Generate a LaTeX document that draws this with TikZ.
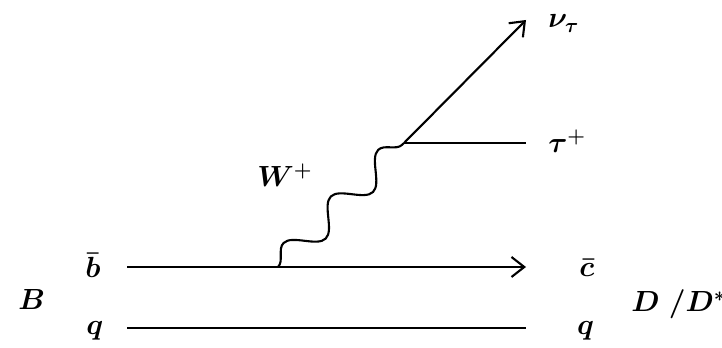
\documentclass[tikz,border=0pt]{standalone}
\usepackage{amsmath}
\usetikzlibrary{arrows.meta,positioning,decorations.pathmorphing}

\begin{document}
\begin{tikzpicture}[
  fermion/.style={draw, line width=1.5pt},
  boson/.style={draw, line width=1.5pt, decorate, decoration={snake, segment length=1.66cm, amplitude=0.33cm}},
  lbl/.style={font=\fontsize{20}{24}\selectfont\boldmath, inner sep=0pt, anchor=base west},
  >={Straight Barb[length=3.2mm, width=5mm]}
]
\useasboundingbox (0,0) rectangle (18.05,8.7);

% Vertices and line ends
\coordinate (bstart) at (3.175,2.025);
\coordinate (cend) at (13.15,2.025);
\coordinate (qstart) at (3.175,0.5);
\coordinate (qend) at (13.15,0.5);
\coordinate (wlow) at (6.95,2.025);
\coordinate (whigh) at (10.1,5.125);
\coordinate (tauend) at (13.15,5.125);
\coordinate (nuend) at (13.15,8.2);

% Labels
\node[lbl] (B) at (0.45,0.95) {$B$};
\node[lbl] (bbar) at (2.125,1.75) {$\bar{b}$};
\node[lbl] (qleft) at (2.15,0.34) {$q$};
\node[lbl] (cbar) at (14.475,1.775) {$\bar{c}$};
\node[lbl] (qright) at (14.42,0.34) {$q$};
\node[lbl] (D) at (15.775,0.9) {$D\;/D^{*}$};
\node[lbl] (tau) at (13.7,4.875) {$\tau^{+}$};
\node[lbl] (nu) at (13.7,8.0) {$\nu_{\tau}$};
\node[lbl] (W) at (6.425,4.03) {$W^{+}$};

% Lines
\draw[fermion, ->] (bstart) -- (cend);
\draw[fermion] (qstart) -- (qend);
\draw[boson] (wlow) -- (whigh);
\draw[fermion] (whigh) -- (tauend);
\draw[fermion, ->] (whigh) -- (nuend);

\end{tikzpicture}
\end{document}
